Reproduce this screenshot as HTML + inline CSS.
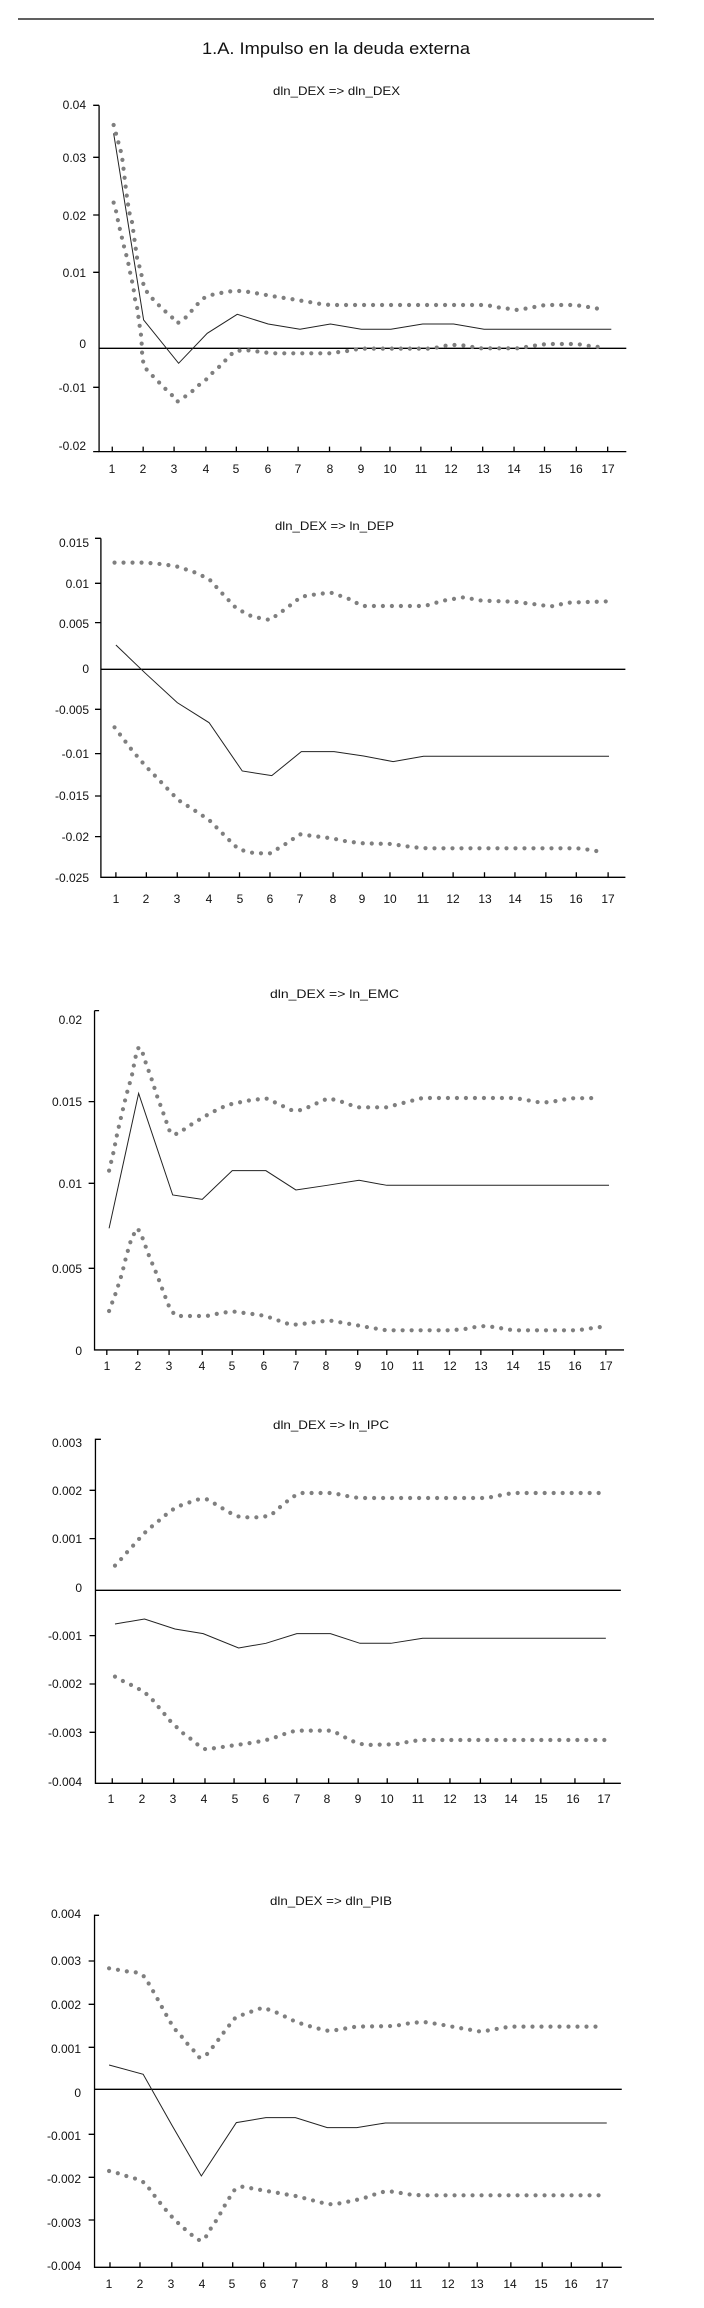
<!DOCTYPE html>
<html><head><meta charset="utf-8"><style>
html,body{margin:0;padding:0;background:#fff;}
svg{display:block;}
text{font-family:"Liberation Sans",sans-serif;fill:#111;}
.yl{font-size:12px;text-anchor:end;}
.xl{font-size:12px;text-anchor:middle;}
.tt{font-size:12px;}
.ax{stroke:#000;stroke-width:1.3;fill:none;vector-effect:non-scaling-stroke;}
.sl{stroke:#222;stroke-width:1;fill:none;vector-effect:non-scaling-stroke;}
.dt{stroke:#7f7f7f;stroke-width:4.2;fill:none;stroke-linecap:round;stroke-dasharray:0 9;vector-effect:non-scaling-stroke;}
</style></head><body>
<svg width="704" height="2308" viewBox="0 0 704 2308" xmlns="http://www.w3.org/2000/svg">
<line x1="18" y1="19" x2="654" y2="19" stroke="#000" stroke-width="1.3"/>
<text x="202" y="54" font-size="17" textLength="268" lengthAdjust="spacingAndGlyphs">1.A. Impulso en la deuda externa</text>

<!-- Chart 1 -->
<text class="tt" x="273" y="95" textLength="127" lengthAdjust="spacingAndGlyphs">dln_DEX =&gt; dln_DEX</text>
<g transform="translate(0,0) scale(0.4545,0.3333)">
<polyline class="ax" points="218,316 218,1355 1378,1355"/>
<path class="ax" d="M205,316H218M205,472H218M205,645H218M205,817H218M205,1162H218M205,1355H218"/>
<path class="ax" d="M247,1340V1355M315,1340V1355M383,1340V1355M453,1340V1355M520,1340V1355M589,1340V1355M656,1340V1355M725,1340V1355M794,1340V1355M858,1340V1355M926,1340V1355M993,1340V1355M1062,1340V1355M1131,1340V1355M1198,1340V1355M1268,1340V1355M1337,1340V1355"/>
<line class="ax" x1="218" y1="1045" x2="1378" y2="1045"/>
<polyline class="sl" points="250,400 316,960 393,1090 456,1000 522,943 590,972 660,988 727,972 795,988 860,988 930,972 998,972 1065,988 1345,988"/>
<polyline class="dt" points="250,375 256,405 262,435 268,465 273,520 278,578 284,635 290,662 296,720 302,778 308,805 313,835 317,863 328,885 343,907 360,930 377,950 390,970 405,958 420,935 435,912 450,893 470,883 490,878 512,873 535,873 556,878 577,883 598,888 620,893 640,897 662,902 684,907 705,912 727,915 1070,915 1095,922 1117,926 1138,930 1160,925 1180,920 1200,915 1265,915 1290,920 1310,925 1330,928"/>
<polyline class="dt" points="250,608 256,637 260,665 265,695 270,723 275,752 281,780 285,810 290,840 294,868 297,897 302,925 305,955 308,985 311,1012 312,1040 313,1070 317,1100 330,1120 345,1140 360,1162 375,1180 390,1205 405,1192 422,1175 438,1155 455,1137 470,1115 487,1095 500,1075 515,1055 535,1050 555,1052 578,1057 600,1060 730,1060 750,1055 772,1052 790,1046 950,1046 970,1040 990,1035 1012,1035 1035,1040 1055,1045 1140,1045 1162,1040 1185,1035 1205,1032 1270,1032 1290,1037 1312,1040 1333,1045"/>
</g>
<g>
<text class="yl" x="86" y="109">0.04</text><text class="yl" x="86" y="162">0.03</text><text class="yl" x="86" y="220">0.02</text><text class="yl" x="86" y="277">0.01</text><text class="yl" x="86" y="348">0</text><text class="yl" x="86" y="392">-0.01</text><text class="yl" x="86" y="450">-0.02</text>
</g>
<g class="xlab" transform="translate(0,473)">
<text class="xl" x="112">1</text><text class="xl" x="143">2</text><text class="xl" x="174">3</text><text class="xl" x="206">4</text><text class="xl" x="236">5</text><text class="xl" x="268">6</text><text class="xl" x="298">7</text><text class="xl" x="330">8</text><text class="xl" x="361">9</text><text class="xl" x="390">10</text><text class="xl" x="421">11</text><text class="xl" x="451">12</text><text class="xl" x="483">13</text><text class="xl" x="514">14</text><text class="xl" x="545">15</text><text class="xl" x="576">16</text><text class="xl" x="608">17</text>
</g>

<!-- Chart 2 -->
<text class="tt" x="275" y="530" textLength="119" lengthAdjust="spacingAndGlyphs">dln_DEX =&gt; ln_DEP</text>
<g transform="translate(0,480) scale(0.4545,0.3333)">
<polyline class="ax" points="222,175 222,1192 1376,1192"/>
<path class="ax" d="M209,175H222M209,310H222M209,428H222M209,688H222M209,821H222M209,948H222M209,1070H222"/>
<path class="ax" d="M255,1177V1192M322,1177V1192M390,1177V1192M460,1177V1192M527,1177V1192M594,1177V1192M661,1177V1192M733,1177V1192M797,1177V1192M858,1177V1192M930,1177V1192M997,1177V1192M1066,1177V1192M1133,1177V1192M1201,1177V1192M1268,1177V1192M1338,1177V1192"/>
<line class="ax" x1="222" y1="568" x2="1376" y2="568"/>
<polyline class="sl" points="255,495 320,580 390,668 460,728 533,873 598,887 663,815 735,815 800,828 865,845 932,829 1340,829"/>
<polyline class="dt" points="252,248 320,248 360,253 390,260 425,275 460,297 490,342 520,385 555,410 594,420 630,385 663,350 700,342 728,338 765,355 797,378 860,378 935,378 975,362 1020,352 1060,362 1130,365 1190,375 1210,380 1250,368 1340,364"/>
<polyline class="dt" points="252,742 290,810 320,858 350,900 392,960 430,993 460,1020 495,1068 525,1108 560,1120 594,1120 625,1095 660,1063 700,1070 730,1075 765,1085 800,1090 860,1092 910,1102 940,1105 1000,1105 1270,1105 1300,1110 1330,1118"/>
</g>
<g>
<text class="yl" x="89" y="547">0.015</text><text class="yl" x="89" y="588">0.01</text><text class="yl" x="89" y="628">0.005</text><text class="yl" x="89" y="673">0</text><text class="yl" x="89" y="714">-0.005</text><text class="yl" x="89" y="758">-0.01</text><text class="yl" x="89" y="800">-0.015</text><text class="yl" x="89" y="841">-0.02</text><text class="yl" x="89" y="882">-0.025</text>
</g>
<g transform="translate(0,903)">
<text class="xl" x="116">1</text><text class="xl" x="146">2</text><text class="xl" x="177">3</text><text class="xl" x="209">4</text><text class="xl" x="240">5</text><text class="xl" x="270">6</text><text class="xl" x="300">7</text><text class="xl" x="333">8</text><text class="xl" x="362">9</text><text class="xl" x="390">10</text><text class="xl" x="423">11</text><text class="xl" x="453">12</text><text class="xl" x="485">13</text><text class="xl" x="515">14</text><text class="xl" x="546">15</text><text class="xl" x="576">16</text><text class="xl" x="608">17</text>
</g>

<!-- Chart 3 -->
<text class="tt" x="270" y="998" textLength="129" lengthAdjust="spacingAndGlyphs">dln_DEX =&gt; ln_EMC</text>
<g transform="translate(0,960) scale(0.4545,0.3333)">
<polyline class="ax" points="208,152 208,1170 1373,1170"/>
<path class="ax" d="M208,152H218M195,425H208M195,670H208M195,925H208"/>
<path class="ax" d="M235,1170V1185M303,1170V1185M372,1170V1185M445,1170V1185M511,1170V1185M580,1170V1185M651,1170V1185M717,1170V1185M787,1170V1185M851,1170V1185M919,1170V1185M989,1170V1185M1058,1170V1185M1128,1170V1185M1196,1170V1185M1264,1170V1185M1333,1170V1185"/>
<polyline class="sl" points="240,805 305,400 380,705 445,718 511,632 585,632 651,690 720,676 790,661 851,676 1340,676"/>
<polyline class="dt" points="240,632 250,575 258,520 268,462 278,405 290,348 298,292 305,262 312,270 318,298 333,355 346,410 360,462 375,520 390,522 425,490 462,460 500,435 545,422 585,415 606,428 644,452 665,450 700,428 722,415 745,422 765,432 787,442 850,442 890,428 912,420 930,414 1130,414 1150,418 1190,428 1212,426 1255,415 1320,414"/>
<polyline class="dt" points="240,1053 255,998 268,943 278,888 290,832 303,805 313,832 328,888 345,943 360,998 375,1050 388,1068 455,1068 490,1058 515,1055 560,1063 585,1068 602,1077 620,1085 640,1095 665,1092 700,1085 727,1082 770,1092 810,1102 850,1111 985,1111 1020,1108 1050,1100 1070,1098 1090,1102 1130,1111 1270,1111 1300,1105 1328,1100"/>
</g>
<g>
<text class="yl" x="82" y="1024">0.02</text><text class="yl" x="82" y="1106">0.015</text><text class="yl" x="82" y="1188">0.01</text><text class="yl" x="82" y="1273">0.005</text><text class="yl" x="82" y="1355">0</text>
</g>
<g transform="translate(0,1370)">
<text class="xl" x="107">1</text><text class="xl" x="138">2</text><text class="xl" x="169">3</text><text class="xl" x="202">4</text><text class="xl" x="232">5</text><text class="xl" x="264">6</text><text class="xl" x="296">7</text><text class="xl" x="326">8</text><text class="xl" x="358">9</text><text class="xl" x="387">10</text><text class="xl" x="418">11</text><text class="xl" x="450">12</text><text class="xl" x="481">13</text><text class="xl" x="513">14</text><text class="xl" x="544">15</text><text class="xl" x="575">16</text><text class="xl" x="606">17</text>
</g>

<!-- Chart 4 -->
<text class="tt" x="273" y="1429" textLength="116" lengthAdjust="spacingAndGlyphs">dln_DEX =&gt; ln_IPC</text>
<g transform="translate(0,1400) scale(0.4545,0.3333)">
<polyline class="ax" points="222,118 210,118 210,1150 1366,1150"/>
<path class="ax" d="M197,271H210M197,416H210M197,707H210M197,852H210M197,997H210"/>
<path class="ax" d="M247,1135V1150M313,1135V1150M382,1135V1150M451,1135V1150M515,1135V1150M584,1135V1150M653,1135V1150M723,1135V1150M788,1135V1150M852,1135V1150M919,1135V1150M990,1135V1150M1057,1135V1150M1125,1135V1150M1190,1135V1150M1265,1135V1150M1329,1135V1150"/>
<line class="ax" x1="210" y1="571" x2="1366" y2="571"/>
<polyline class="sl" points="253,672 318,657 385,687 447,701 525,744 585,730 653,701 727,701 792,730 860,730 930,715 1333,715"/>
<polyline class="dt" points="253,497 268,475 282,453 297,431 311,409 326,388 343,370 358,352 376,332 394,318 415,308 437,298 455,298 475,313 492,327 512,343 530,352 573,352 596,346 611,327 628,308 645,290 663,279 730,279 750,284 770,290 790,294 1070,294 1093,288 1115,282 1135,279 1330,279"/>
<polyline class="dt" points="253,830 273,845 292,857 312,872 330,890 343,912 358,935 370,957 386,978 400,997 418,1015 434,1033 452,1048 475,1044 495,1040 515,1036 537,1032 560,1027 580,1022 600,1015 620,1005 640,995 663,992 730,992 748,1004 767,1018 785,1029 805,1035 870,1033 893,1027 915,1022 930,1020 1330,1020"/>
</g>
<g>
<text class="yl" x="82" y="1447">0.003</text><text class="yl" x="82" y="1495">0.002</text><text class="yl" x="82" y="1543">0.001</text><text class="yl" x="82" y="1592">0</text><text class="yl" x="82" y="1640">-0.001</text><text class="yl" x="82" y="1688">-0.002</text><text class="yl" x="82" y="1737">-0.003</text><text class="yl" x="82" y="1786">-0.004</text>
</g>
<g transform="translate(0,1803)">
<text class="xl" x="111">1</text><text class="xl" x="142">2</text><text class="xl" x="173">3</text><text class="xl" x="204">4</text><text class="xl" x="235">5</text><text class="xl" x="266">6</text><text class="xl" x="297">7</text><text class="xl" x="327">8</text><text class="xl" x="358">9</text><text class="xl" x="387">10</text><text class="xl" x="418">11</text><text class="xl" x="450">12</text><text class="xl" x="480">13</text><text class="xl" x="511">14</text><text class="xl" x="541">15</text><text class="xl" x="573">16</text><text class="xl" x="604">17</text>
</g>

<!-- Chart 5 -->
<text class="tt" x="270" y="1905" textLength="122" lengthAdjust="spacingAndGlyphs">dln_DEX =&gt; dln_PIB</text>
<g transform="translate(0,1850) scale(0.4545,0.3333)">
<polyline class="ax" points="218,196 208,196 208,1252 1368,1252"/>
<path class="ax" d="M195,333H208M195,463H208M195,592H208M195,853H208M195,982H208M195,1110H208"/>
<path class="ax" d="M242,1237V1252M308,1237V1252M378,1237V1252M446,1237V1252M512,1237V1252M580,1237V1252M651,1237V1252M718,1237V1252M783,1237V1252M848,1237V1252M916,1237V1252M988,1237V1252M1050,1237V1252M1124,1237V1252M1193,1237V1252M1257,1237V1252M1325,1237V1252"/>
<line class="ax" x1="208" y1="718" x2="1368" y2="718"/>
<polyline class="sl" points="240,645 315,673 378,825 443,978 520,818 585,803 650,803 720,833 785,833 848,819 1335,819"/>
<polyline class="dt" points="240,355 262,360 283,365 304,368 320,382 330,408 341,433 351,458 361,483 372,510 383,535 397,555 410,578 425,600 438,622 452,618 466,595 479,572 492,548 505,525 518,503 538,492 557,483 578,473 598,482 618,493 637,507 656,518 677,527 698,535 720,542 740,540 762,535 784,530 870,528 890,522 912,518 932,516 953,520 975,525 995,530 1016,535 1037,540 1058,545 1080,540 1100,535 1122,530 1320,530"/>
<polyline class="dt" points="240,963 260,970 282,980 303,988 320,1000 333,1025 346,1048 359,1070 373,1093 387,1113 403,1133 419,1152 437,1170 450,1168 460,1143 472,1120 483,1095 493,1070 504,1045 516,1020 532,1010 553,1015 573,1020 596,1025 616,1030 637,1035 658,1040 678,1048 700,1055 720,1063 740,1062 762,1056 784,1050 804,1043 825,1033 845,1025 865,1025 886,1030 908,1035 930,1036 1320,1036"/>
</g>
<g>
<text class="yl" x="81" y="1918">0.004</text><text class="yl" x="81" y="1965">0.003</text><text class="yl" x="81" y="2009">0.002</text><text class="yl" x="81" y="2053">0.001</text><text class="yl" x="81" y="2097">0</text><text class="yl" x="81" y="2140">-0.001</text><text class="yl" x="81" y="2183">-0.002</text><text class="yl" x="81" y="2227">-0.003</text><text class="yl" x="81" y="2270">-0.004</text>
</g>
<g transform="translate(0,2288)">
<text class="xl" x="109">1</text><text class="xl" x="140">2</text><text class="xl" x="171">3</text><text class="xl" x="202">4</text><text class="xl" x="232">5</text><text class="xl" x="263">6</text><text class="xl" x="295">7</text><text class="xl" x="325">8</text><text class="xl" x="355">9</text><text class="xl" x="385">10</text><text class="xl" x="416">11</text><text class="xl" x="448">12</text><text class="xl" x="477">13</text><text class="xl" x="510">14</text><text class="xl" x="541">15</text><text class="xl" x="571">16</text><text class="xl" x="602">17</text>
</g>
</svg>
</body></html>
